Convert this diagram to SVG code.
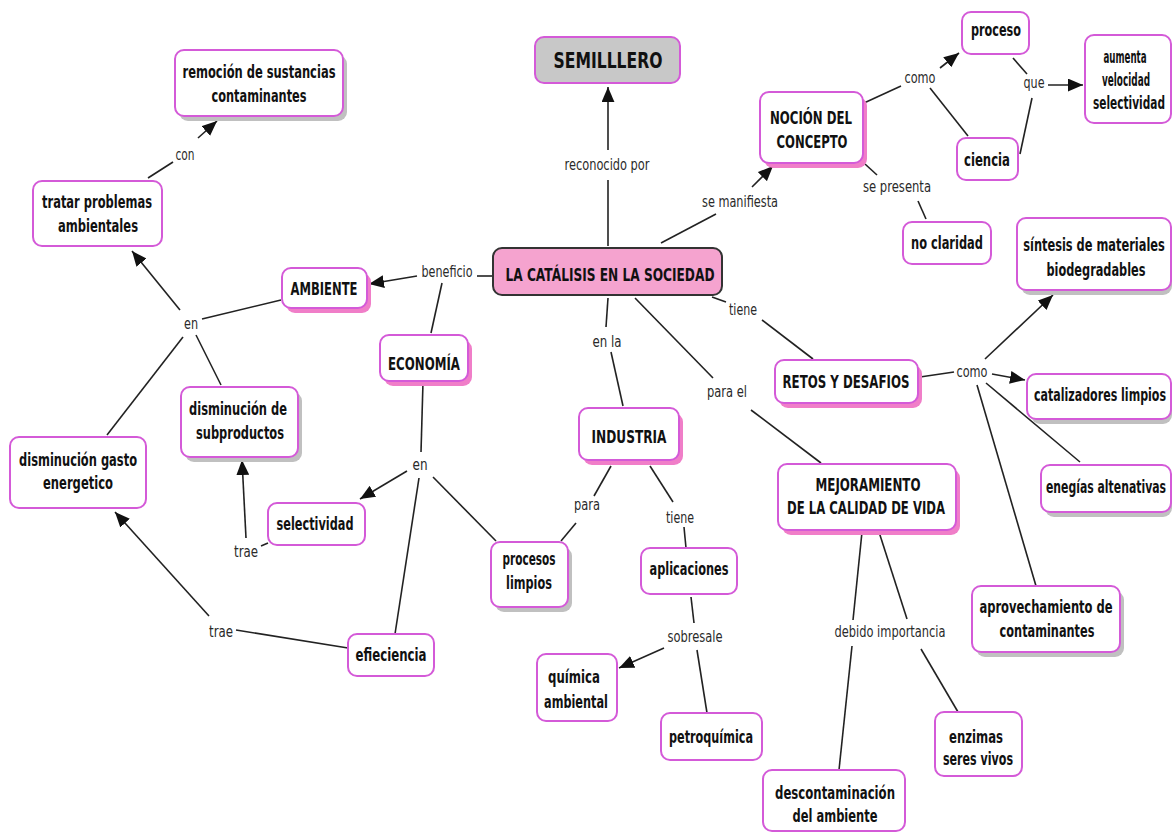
<svg xmlns="http://www.w3.org/2000/svg" width="1172" height="832" viewBox="0 0 1172 832">
<defs>
<style>
.box{fill:#fff;stroke:#d45ad8;stroke-width:2}
.shp{fill:#f07ec8}
.shg{fill:#c0c0c0}
.nt{font-family:"DejaVu Sans","Liberation Sans",sans-serif;font-weight:bold;font-size:17px;fill:#111;text-anchor:middle}
.lt{font-family:"DejaVu Sans","Liberation Sans",sans-serif;font-size:16px;fill:#2a2a2a;text-anchor:middle}
.ln{stroke:#222;stroke-width:1.6;fill:none}
.ar{stroke:#222;stroke-width:1.6;fill:none;marker-end:url(#arr)}
</style>
<marker id="arr" viewBox="0 0 14 12" refX="14" refY="6" markerWidth="15" markerHeight="13" markerUnits="userSpaceOnUse" orient="auto">
<path d="M0,0 L14,6 L0,12 z" fill="#111"/>
</marker>
</defs>
<rect width="1172" height="832" fill="#fff"/>

<g id="connectors">
<line class="ln" x1="608" y1="246" x2="608" y2="180"/>
<line class="ar" x1="608" y1="150" x2="608" y2="87"/>
<line class="ln" x1="661" y1="243" x2="716" y2="214"/>
<line class="ar" x1="752" y1="187" x2="773" y2="166"/>
<line class="ln" x1="864" y1="103" x2="901" y2="86"/>
<line class="ar" x1="940" y1="68" x2="959" y2="53"/>
<line class="ln" x1="930" y1="88" x2="968" y2="136"/>
<line class="ln" x1="1013" y1="58" x2="1027" y2="74"/>
<line class="ar" x1="1048" y1="85" x2="1083" y2="85"/>
<line class="ln" x1="1020" y1="154" x2="1032" y2="98"/>
<line class="ln" x1="865" y1="164" x2="877" y2="175"/>
<line class="ln" x1="918" y1="201" x2="926" y2="219"/>
<line class="ln" x1="492" y1="276" x2="477" y2="276"/>
<line class="ar" x1="417" y1="276" x2="369" y2="284"/>
<line class="ln" x1="442" y1="283" x2="431" y2="333"/>
<line class="ln" x1="281" y1="300" x2="202" y2="319"/>
<line class="ar" x1="180" y1="310" x2="132" y2="251"/>
<line class="ln" x1="196" y1="335" x2="221" y2="385"/>
<line class="ln" x1="183" y1="337" x2="107" y2="435"/>
<line class="ln" x1="148" y1="178" x2="173" y2="162"/>
<line class="ar" x1="198" y1="138" x2="217" y2="121"/>
<line class="ln" x1="423" y1="382" x2="421" y2="452"/>
<line class="ar" x1="407" y1="471" x2="360" y2="499"/>
<line class="ln" x1="433" y1="477" x2="496" y2="541"/>
<line class="ln" x1="419" y1="478" x2="395" y2="634"/>
<line class="ln" x1="268" y1="543" x2="261" y2="546"/>
<line class="ar" x1="246" y1="538" x2="242" y2="460"/>
<line class="ln" x1="348" y1="648" x2="236" y2="630"/>
<line class="ar" x1="209" y1="616" x2="115" y2="512"/>
<line class="ln" x1="608" y1="298" x2="606" y2="327"/>
<line class="ln" x1="611" y1="352" x2="623" y2="406"/>
<line class="ln" x1="635" y1="298" x2="713" y2="378"/>
<line class="ln" x1="751" y1="410" x2="821" y2="463"/>
<line class="ln" x1="712" y1="297" x2="726" y2="302"/>
<line class="ln" x1="762" y1="320" x2="813" y2="359"/>
<line class="ln" x1="611" y1="466" x2="594" y2="496"/>
<line class="ln" x1="576" y1="523" x2="561" y2="541"/>
<line class="ln" x1="650" y1="466" x2="673" y2="502"/>
<line class="ln" x1="684" y1="527" x2="686" y2="548"/>
<line class="ln" x1="691" y1="597" x2="694" y2="623"/>
<line class="ar" x1="664" y1="648" x2="619" y2="668"/>
<line class="ln" x1="697" y1="650" x2="707" y2="713"/>
<line class="ln" x1="920" y1="377" x2="954" y2="372"/>
<line class="ar" x1="985" y1="359" x2="1053" y2="295"/>
<line class="ar" x1="992" y1="374" x2="1025" y2="380"/>
<line class="ln" x1="986" y1="383" x2="1080" y2="462"/>
<line class="ln" x1="977" y1="385" x2="1036" y2="586"/>
<line class="ln" x1="862" y1="532" x2="853" y2="620"/>
<line class="ln" x1="852" y1="646" x2="839" y2="770"/>
<line class="ln" x1="879" y1="532" x2="907" y2="619"/>
<line class="ln" x1="921" y1="649" x2="958" y2="712"/>

<text class="lt" x="607" y="170" textLength="85" lengthAdjust="spacingAndGlyphs">reconocido por</text>
<text class="lt" x="740" y="207" textLength="76" lengthAdjust="spacingAndGlyphs">se manifiesta</text>
<text class="lt" x="920" y="83" textLength="31" lengthAdjust="spacingAndGlyphs">como</text>
<text class="lt" x="1034" y="88" textLength="21" lengthAdjust="spacingAndGlyphs">que</text>
<text class="lt" x="897" y="192" textLength="68" lengthAdjust="spacingAndGlyphs">se presenta</text>
<text class="lt" x="447" y="277" textLength="51" lengthAdjust="spacingAndGlyphs">beneficio</text>
<text class="lt" x="191" y="329" textLength="14" lengthAdjust="spacingAndGlyphs">en</text>
<text class="lt" x="185" y="160" textLength="19" lengthAdjust="spacingAndGlyphs">con</text>
<text class="lt" x="420" y="470" textLength="15" lengthAdjust="spacingAndGlyphs">en</text>
<text class="lt" x="246" y="557" textLength="24" lengthAdjust="spacingAndGlyphs">trae</text>
<text class="lt" x="221" y="637" textLength="24" lengthAdjust="spacingAndGlyphs">trae</text>
<text class="lt" x="607" y="347" textLength="29" lengthAdjust="spacingAndGlyphs">en la</text>
<text class="lt" x="727" y="397" textLength="40" lengthAdjust="spacingAndGlyphs">para el</text>
<text class="lt" x="743" y="315" textLength="28" lengthAdjust="spacingAndGlyphs">tiene</text>
<text class="lt" x="587" y="510" textLength="26" lengthAdjust="spacingAndGlyphs">para</text>
<text class="lt" x="680" y="523" textLength="28" lengthAdjust="spacingAndGlyphs">tiene</text>
<text class="lt" x="695" y="642" textLength="55" lengthAdjust="spacingAndGlyphs">sobresale</text>
<text class="lt" x="972" y="377" textLength="31" lengthAdjust="spacingAndGlyphs">como</text>
<text class="lt" x="890" y="637" textLength="111" lengthAdjust="spacingAndGlyphs">debido importancia</text>
</g>

<g id="n-semillero">
<rect x="535" y="37" width="145" height="46" rx="9" fill="#c8c8c8" stroke="#d45ad8" stroke-width="2"/>
<text class="nt" x="608" y="68" style="font-size:22px" textLength="109" lengthAdjust="spacingAndGlyphs">SEMILLLERO</text>
</g>
<g id="n-remocion">
<rect class="shg" x="179" y="55" width="168" height="66" rx="9"/>
<rect class="box" x="175" y="50" width="168" height="66" rx="9"/>
<text class="nt" x="259" y="78" textLength="153" lengthAdjust="spacingAndGlyphs">remoción de sustancias</text>
<text class="nt" x="259" y="102" textLength="95" lengthAdjust="spacingAndGlyphs">contaminantes</text>
</g>
<g id="n-tratar">
<rect class="box" x="33" y="181" width="129" height="65" rx="9"/>
<text class="nt" x="97" y="208" textLength="110" lengthAdjust="spacingAndGlyphs">tratar problemas</text>
<text class="nt" x="98" y="232" textLength="80" lengthAdjust="spacingAndGlyphs">ambientales</text>
</g>
<g id="n-ambiente">
<rect class="shp" x="286" y="273" width="85" height="40" rx="9"/>
<rect class="box" x="282" y="268" width="85" height="40" rx="9"/>
<text class="nt" x="324" y="295" textLength="67" lengthAdjust="spacingAndGlyphs">AMBIENTE</text>
</g>
<g id="n-catalisis">
<rect x="493" y="248" width="229" height="47" rx="9" fill="#f5a3cf" stroke="#333" stroke-width="2"/>
<text class="nt" x="610" y="281" textLength="209" lengthAdjust="spacingAndGlyphs">LA CATÁLISIS  EN LA SOCIEDAD</text>
</g>
<g id="n-nocion">
<rect class="shp" x="764" y="97" width="103" height="71" rx="9"/>
<rect class="box" x="760" y="92" width="103" height="71" rx="9"/>
<text class="nt" x="811" y="124" textLength="82" lengthAdjust="spacingAndGlyphs">NOCIÓN DEL</text>
<text class="nt" x="812" y="148" textLength="71" lengthAdjust="spacingAndGlyphs">CONCEPTO</text>
</g>
<g id="n-proceso">
<rect class="box" x="962" y="12" width="67" height="42" rx="9"/>
<text class="nt" x="996" y="36" textLength="50" lengthAdjust="spacingAndGlyphs">proceso</text>
</g>
<g id="n-aumenta">
<rect class="box" x="1085" y="35" width="86" height="88" rx="9"/>
<text class="nt" transform="translate(1125,63) scale(0.6,1)" textLength="72" lengthAdjust="spacingAndGlyphs">aumenta</text>
<text class="nt" transform="translate(1126,86) scale(0.6,1)" textLength="80" lengthAdjust="spacingAndGlyphs">velocidad</text>
<text class="nt" transform="translate(1129,109) scale(0.6,1)" textLength="120" lengthAdjust="spacingAndGlyphs">selectividad</text>
</g>
<g id="n-ciencia">
<rect class="box" x="957" y="138" width="61" height="42" rx="9"/>
<text class="nt" x="987" y="166" textLength="46" lengthAdjust="spacingAndGlyphs">ciencia</text>
</g>
<g id="n-noclaridad">
<rect class="box" x="903" y="222" width="88" height="42" rx="9"/>
<text class="nt" x="947" y="249" textLength="72" lengthAdjust="spacingAndGlyphs">no claridad</text>
</g>
<g id="n-sintesis">
<rect class="shg" x="1021" y="223" width="151" height="72" rx="9"/>
<rect class="box" x="1017" y="218" width="154" height="72" rx="9"/>
<text class="nt" transform="translate(1094,251) scale(0.6,1)" textLength="236" lengthAdjust="spacingAndGlyphs">síntesis de materiales</text>
<text class="nt" transform="translate(1096,276) scale(0.6,1)" textLength="165" lengthAdjust="spacingAndGlyphs">biodegradables</text>
</g>
<g id="n-economia">
<rect class="shp" x="384" y="340" width="88" height="46" rx="9"/>
<rect class="box" x="380" y="335" width="88" height="46" rx="9"/>
<text class="nt" x="424" y="370" textLength="72" lengthAdjust="spacingAndGlyphs">ECONOMÍA</text>
</g>
<g id="n-industria">
<rect class="shp" x="583" y="413" width="100" height="52" rx="9"/>
<rect class="box" x="579" y="408" width="100" height="52" rx="9"/>
<text class="nt" x="629" y="443" textLength="75" lengthAdjust="spacingAndGlyphs">INDUSTRIA</text>
</g>
<g id="n-retos">
<rect class="shp" x="779" y="365" width="143" height="43" rx="9"/>
<rect class="box" x="775" y="360" width="143" height="43" rx="9"/>
<text class="nt" x="846" y="388" textLength="127" lengthAdjust="spacingAndGlyphs">RETOS Y DESAFIOS</text>
</g>
<g id="n-catalizadores">
<rect class="shg" x="1031" y="379" width="141" height="45" rx="9"/>
<rect class="box" x="1027" y="374" width="144" height="45" rx="9"/>
<text class="nt" transform="translate(1100,401) scale(0.6,1)" textLength="220" lengthAdjust="spacingAndGlyphs">catalizadores limpios</text>
</g>
<g id="n-energias">
<rect class="shg" x="1045" y="470" width="127" height="47" rx="9"/>
<rect class="box" x="1041" y="465" width="130" height="47" rx="9"/>
<text class="nt" transform="translate(1106,493) scale(0.6,1)" textLength="200" lengthAdjust="spacingAndGlyphs">enegías altenativas</text>
</g>
<g id="n-mejoramiento">
<rect class="shp" x="782" y="469" width="178" height="66" rx="9"/>
<rect class="box" x="778" y="464" width="178" height="66" rx="9"/>
<text class="nt" x="868" y="491" textLength="105" lengthAdjust="spacingAndGlyphs">MEJORAMIENTO</text>
<text class="nt" x="866" y="514" textLength="158" lengthAdjust="spacingAndGlyphs">DE LA CALIDAD DE VIDA</text>
</g>
<g id="n-subproductos">
<rect class="shg" x="185" y="392" width="117" height="70" rx="9"/>
<rect class="box" x="181" y="387" width="117" height="70" rx="9"/>
<text class="nt" x="238" y="415" textLength="98" lengthAdjust="spacingAndGlyphs">disminución de</text>
<text class="nt" x="240" y="439" textLength="88" lengthAdjust="spacingAndGlyphs">subproductos</text>
</g>
<g id="n-gasto">
<rect class="box" x="10" y="437" width="136" height="71" rx="9"/>
<text class="nt" x="78" y="466" textLength="118" lengthAdjust="spacingAndGlyphs">disminución gasto</text>
<text class="nt" x="78" y="489" textLength="70" lengthAdjust="spacingAndGlyphs">energetico</text>
</g>
<g id="n-selectividad">
<rect class="box" x="268" y="503" width="97" height="42" rx="9"/>
<text class="nt" x="315" y="530" textLength="77" lengthAdjust="spacingAndGlyphs">selectividad</text>
</g>
<g id="n-procesos">
<rect class="shg" x="495" y="547" width="77" height="65" rx="9"/>
<rect class="box" x="491" y="542" width="77" height="65" rx="9"/>
<text class="nt" x="529" y="565" textLength="53" lengthAdjust="spacingAndGlyphs">procesos</text>
<text class="nt" x="529" y="589" textLength="46" lengthAdjust="spacingAndGlyphs">limpios</text>
</g>
<g id="n-aplicaciones">
<rect class="box" x="641" y="548" width="96" height="46" rx="9"/>
<text class="nt" x="689" y="575" textLength="79" lengthAdjust="spacingAndGlyphs">aplicaciones</text>
</g>
<g id="n-efieciencia">
<rect class="box" x="348" y="634" width="86" height="42" rx="9"/>
<text class="nt" x="391" y="661" textLength="71" lengthAdjust="spacingAndGlyphs">efieciencia</text>
</g>
<g id="n-quimica">
<rect class="box" x="537" y="654" width="80" height="67" rx="9"/>
<text class="nt" x="574" y="683" textLength="52" lengthAdjust="spacingAndGlyphs">química</text>
<text class="nt" x="576" y="708" textLength="64" lengthAdjust="spacingAndGlyphs">ambiental</text>
</g>
<g id="n-petroquimica">
<rect class="box" x="661" y="713" width="101" height="47" rx="9"/>
<text class="nt" x="711" y="743" textLength="84" lengthAdjust="spacingAndGlyphs">petroquímica</text>
</g>
<g id="n-descontaminacion">
<rect class="box" x="763" y="770" width="142" height="61" rx="9"/>
<text class="nt" x="835" y="799" textLength="120" lengthAdjust="spacingAndGlyphs">descontaminación</text>
<text class="nt" x="835" y="822" textLength="85" lengthAdjust="spacingAndGlyphs">del ambiente</text>
</g>
<g id="n-enzimas">
<rect class="box" x="935" y="712" width="87" height="64" rx="9"/>
<text class="nt" x="976" y="743" textLength="54" lengthAdjust="spacingAndGlyphs">enzimas</text>
<text class="nt" x="978" y="765" textLength="70" lengthAdjust="spacingAndGlyphs">seres vivos</text>
</g>
<g id="n-aprovechamiento">
<rect class="shg" x="976" y="591" width="148" height="66" rx="9"/>
<rect class="box" x="972" y="586" width="148" height="66" rx="9"/>
<text class="nt" transform="translate(1046,613) scale(0.6,1)" textLength="222" lengthAdjust="spacingAndGlyphs">aprovechamiento de</text>
<text class="nt" transform="translate(1047,637) scale(0.6,1)" textLength="158" lengthAdjust="spacingAndGlyphs">contaminantes</text>
</g>
</svg>
